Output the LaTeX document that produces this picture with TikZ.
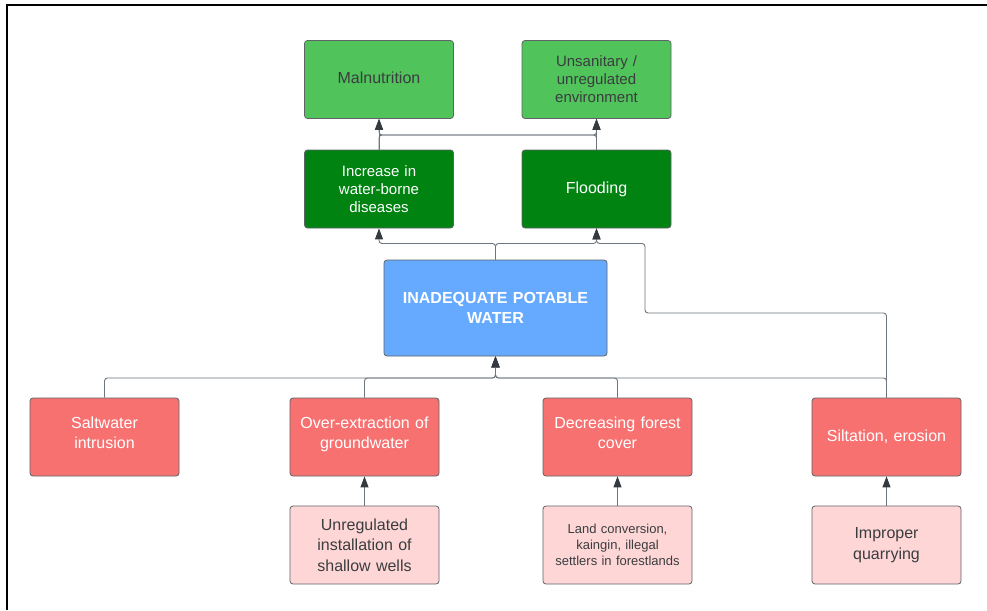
\documentclass[tikz,border=0pt]{standalone}
\usepackage{fontspec}
\setmainfont{Liberation Sans}
\usetikzlibrary{arrows.meta}
\definecolor{lgreen}{HTML}{50C35A}
\definecolor{dgreen}{HTML}{008311}
\definecolor{bluebox}{HTML}{66AAFF}
\definecolor{redbox}{HTML}{F87171}
\definecolor{pinkbox}{HTML}{FFD6D6}
\definecolor{boxline}{HTML}{5F6368}
\definecolor{darktext}{HTML}{3A3D40}
\definecolor{connline}{HTML}{6E757C}
\definecolor{tipcol}{HTML}{343A40}
\newcommand\myfs[2]{\fontsize{#1}{#2}\selectfont}
\tikzset{
  box/.style={draw=boxline, line width=0.8pt, rounded corners=3pt,
    minimum width=149pt, minimum height=78pt, align=center,
    inner sep=4pt, text width=137pt},
  lgbox/.style={box, fill=lgreen, text=darktext},
  dgbox/.style={box, fill=dgreen, text=white},
  bluebx/.style={box, fill=bluebox, text=white, minimum width=223pt,
    minimum height=96pt, text width=210pt, font=\bfseries\myfs{16}{20}},
  redbx/.style={box, fill=redbox, text=white, font=\myfs{16}{20}},
  pinkbx/.style={box, fill=pinkbox, text=darktext, font=\myfs{16}{20.5}},
  conn/.style={draw=connline, line width=0.9pt, rounded corners=3pt},
  arr/.style={conn, -{Triangle[width=8pt,length=11pt,color=tipcol]}}
}
\begin{document}
\begin{tikzpicture}[x=1pt,y=-1pt]
\useasboundingbox (0,0) rectangle (987,610);
\fill[white] (0,0) rectangle (987,610);
\draw[line width=2pt, black] (7,610) -- (7,5) -- (987,5);

% top row
\node[lgbox, font=\myfs{16}{19}] (mal) at (379,79.5) {Malnutrition\vphantom{g}\rule[-4pt]{0pt}{0pt}};
\node[lgbox, font=\myfs{15}{18}] (uns) at (596.5,79.5) {Unsanitary /\\unregulated\\environment};
% second row
\node[dgbox, font=\myfs{15}{18}] (inc) at (379,189) {Increase in\\water-borne\\diseases};
\node[dgbox, font=\myfs{16}{19}] (flo) at (596.5,189) {Flooding};
% centre
\node[bluebx] (ipw) at (495.5,308) {INADEQUATE POTABLE\\WATER};
% causes
\node[redbx] (sal) at (104.5,437) {Saltwater\\intrusion\rule[-8pt]{0pt}{0pt}};
\node[redbx] (ove) at (364.5,437) {Over-extraction of\\groundwater\rule[-8pt]{0pt}{0pt}};
\node[redbx] (dec) at (617.5,437) {Decreasing forest\\cover\rule[-8pt]{0pt}{0pt}};
\node[redbx] (sil) at (886.5,437) {Siltation, erosion};
% root causes
\node[pinkbx] (unr) at (364.5,545) {Unregulated\\installation of\\shallow wells};
\node[pinkbx, font=\myfs{13}{16}] (lan) at (617.5,545) {Land conversion,\\kaingin, illegal\\settlers in forestlands};
\node[pinkbx] (imp) at (886.5,545) {Improper\\quarrying};

\coordinate (k1) at (645,313);
\coordinate (k2) at (645,243.5);

% effects to top effects
\draw[arr] (inc.north) -- (mal.south);
\draw[arr] (flo.north) -- (uns.south);
\draw[arr] (inc.north) -- (inc.north |- 0,135) -| (uns.south);
\draw[arr] (flo.north) -- (flo.north |- 0,135) -| (mal.south);

% inadequate water to effects
\draw[arr] (ipw.north) -- (ipw.north |- 0,243.5) -| (inc.south);
\draw[arr] (ipw.north) -- (ipw.north |- 0,243.5) -| (flo.south);
\draw[arr] (sil.north) |- (k1) -- (k2) -| (flo.south);

% causes to inadequate water
\draw[arr] (sal.north) -- (sal.north |- 0,378) -| (ipw.south);
\draw[arr] (ove.north) -- (ove.north |- 0,378) -| (ipw.south);
\draw[arr] (dec.north) -- (dec.north |- 0,378) -| (ipw.south);
\draw[arr] (sil.north) -- (sil.north |- 0,378) -| (ipw.south);

% root causes to causes
\draw[arr] (unr.north) -- (ove.south);
\draw[arr] (lan.north) -- (dec.south);
\draw[arr] (imp.north) -- (sil.south);
\end{tikzpicture}
\end{document}
